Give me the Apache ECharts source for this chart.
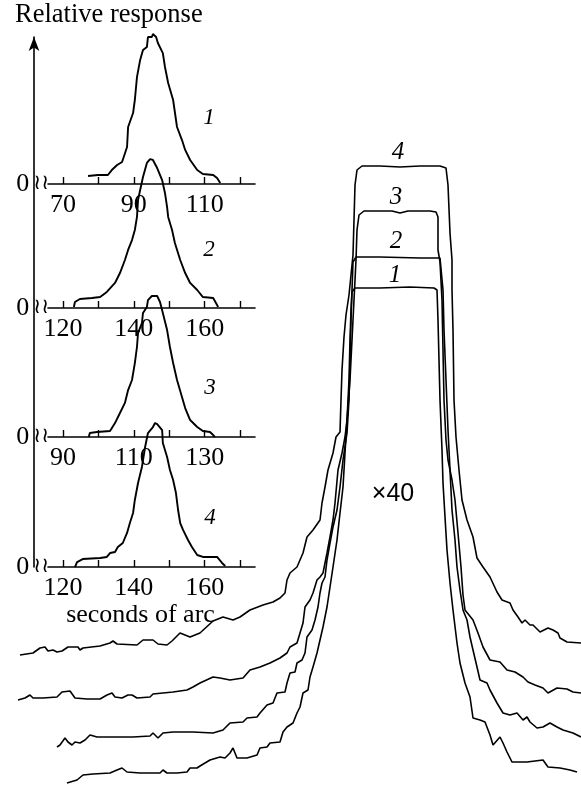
<!DOCTYPE html>
<html><head><meta charset="utf-8">
<script src="https://cdn.jsdelivr.net/npm/echarts@6/dist/echarts.min.js"></script>
<style>html,body{margin:0;padding:0;background:#fff}#c{width:581px;height:785px}</style>
</head><body><div id="c"></div>
<script>
// ---------- Left panels: profiles (x: seconds of arc, y: relative response) ----------
const p1x = [77.1,79.9,82.7,83.8,85.3,86.7,88.1,88.4,89.8,90.3,90.9,91.8,92.6,93.7,94.0,95.1,95.4,96.3,96.8,98.2,98.8,99.7,101.1,102.2,103.6,104.5,105.9,107.9,109.5,112.4,113.5,114.4];
const p1y = [0.053,0.06,0.06,0.093,0.127,0.147,0.247,0.38,0.473,0.56,0.713,0.827,0.893,0.913,0.98,0.98,1.0,0.98,0.94,0.873,0.78,0.673,0.56,0.38,0.293,0.227,0.16,0.093,0.067,0.06,0.04,0.007];
const p2x = [123.1,123.4,124.8,128.2,130.5,132.4,134.7,136.1,137.5,138.4,139.5,140.3,140.9,141.2,141.8,142.6,143.7,144.6,145.4,146.6,148.0,148.8,149.4,149.7,150.8,151.6,153.1,154.5,155.9,157.9,159.5,162.4,163.5,163.8];
const p2y = [0.007,0.04,0.06,0.067,0.073,0.107,0.167,0.233,0.32,0.387,0.453,0.52,0.607,0.72,0.787,0.873,0.967,0.993,0.987,0.933,0.853,0.767,0.673,0.607,0.52,0.433,0.32,0.233,0.167,0.12,0.073,0.067,0.02,0.007];
const p3x = [97.3,97.6,99.6,103.3,104.7,106.1,107.5,108.4,109.5,110.3,110.9,111.2,112.3,112.6,113.7,114.0,115.1,116.6,117.4,118.2,119.4,120.2,121.1,122.2,123.6,124.5,125.9,127.9,129.5,131.5,132.4,132.9];
const p3y = [0,0.027,0.033,0.04,0.093,0.16,0.227,0.313,0.38,0.493,0.6,0.693,0.76,0.827,0.867,0.913,0.94,0.94,0.9,0.827,0.713,0.6,0.493,0.38,0.267,0.193,0.113,0.067,0.04,0.033,0.013,0];
const p4x = [123.4,124.0,125.6,130.5,132.4,133.3,134.7,135.5,136.9,138.1,138.9,139.8,140.3,141.2,142.3,143.2,144.0,145.4,146.0,146.6,148.0,148.2,149.4,150.2,151.1,151.9,152.5,153.1,153.9,155.3,156.4,157.9,159.5,163.5,164.9,165.8];
const p4y = [0,0.033,0.053,0.06,0.067,0.093,0.1,0.133,0.16,0.227,0.293,0.36,0.447,0.56,0.667,0.8,0.893,0.933,0.96,0.953,0.913,0.827,0.733,0.647,0.58,0.493,0.38,0.293,0.247,0.18,0.133,0.08,0.067,0.067,0.027,0.007];

// tick values and labels of the four small axes
const ticks1 = [70,80,90,100,110,120], labels1 = [70,90,110];
const ticks2 = [120,130,140,150,160,170], labels2 = [120,140,160];
const ticks3 = [90,100,110,120,130,140], labels3 = [90,110,130];
const ticks4 = [120,130,140,150,160,170], labels4 = [120,140,160];
const ranges = [[65.8,124.2],[115.8,174.2],[85.8,144.2],[115.8,174.2]];
const panelNames = ['1','2','3','4'];
const panelNamePos = [[111.2,0.44],[161.2,0.387],[131.5,0.327],[161.5,0.327]];

// ---------- Right panel: ×40 profiles (x: arcsec offset, y: response ×40, stacked) ----------
const c4x = [-75.4,-72.8,-71.4,-70.4,-69.8,-68.8,-68.0,-67.0,-65.8,-64.8,-63.8,-63.4,-62.8,-59.4,-57.4,-56.8,-56.0,-52.0,-50.8,-48.8,-47.8,-46.0,-45.0,-43.4,-42.4,-41.4,-39.4,-36.8,-34.8,-32.8,-31.4,-29.4,-26.8,-24.8,-23.4,-22.4,-22.0,-21.4,-20.0,-18.8,-18.0,-16.8,-15.4,-15.0,-14.4,-13.8,-12.8,-12.2,-11.4,-11.2,-11.0,-10.6,-10.2,-9.6,-9.2,-8.8,-8.6,-8.4,-8.0,-7.0,-3.4,0.6,4.6,8.6,9.8,10.2,10.6,11.0,11.0,11.2,11.4,11.8,12.4,13.0,14.0,15.2,16.0,17.2,18.6,20.0,21.0,22.6,23.2,24.2,25.0,25.6,26.6,27.2,28.6,30.2,31.2,32.2,32.6,34.0,36.8];
const c4y = [26.0,26.4,27.4,27.6,26.8,27.0,26.6,26.8,27.6,27.6,27.6,27.0,27.4,27.8,28.4,28.8,28.2,28.0,29.0,29.0,28.2,28.0,28.8,30.4,30.0,29.6,30.4,32.8,33.6,33.0,33.6,35.0,36.0,36.6,37.4,38.4,41.0,42.4,43.6,46.4,49.6,51.0,53.0,56.4,59.6,63.0,66.4,69.6,70.6,77.0,83.0,89.6,94.0,98.0,102.0,106.0,113.0,120.0,123.0,123.8,123.8,123.6,123.8,123.8,123.4,120.0,110.4,105.0,99.0,91.0,77.0,69.6,63.0,57.0,53.0,49.6,45.4,43.6,41.6,38.6,37.0,36.4,35.0,33.6,32.4,33.0,32.0,32.0,30.6,31.4,31.0,30.4,29.4,28.6,28.4];
const c3x = [-75.8,-74.4,-73.4,-72.8,-70.8,-68.0,-67.0,-65.4,-64.4,-62.0,-59.4,-58.0,-57.0,-56.4,-55.0,-53.8,-53.0,-52.0,-49.4,-48.8,-44.8,-42.0,-40.8,-39.4,-36.8,-35.4,-33.4,-30.8,-29.4,-27.4,-25.4,-23.4,-22.0,-21.4,-20.0,-19.4,-18.8,-18.4,-17.4,-16.8,-16.0,-15.4,-14.8,-14.0,-13.4,-12.8,-12.4,-11.8,-11.0,-10.4,-10.0,-9.4,-9.0,-8.6,-8.2,-8.0,-7.6,-6.6,-3.4,-1.0,0.6,2.2,6.6,7.8,8.2,8.2,8.6,9.0,9.2,9.4,9.8,10.2,11.0,11.6,12.2,12.8,13.2,13.6,15.2,16.2,17.2,18.6,20.6,22.0,23.6,25.2,26.2,27.6,29.2,30.2,32.0,34.0,35.2,36.8];
const c3y = [17.0,17.4,18.0,17.4,17.4,17.6,18.6,18.8,17.4,17.2,17.2,18.0,18.4,17.6,17.4,18.0,18.0,17.4,17.6,18.2,18.6,19.0,19.6,20.4,21.6,21.4,21.0,21.4,23.0,23.6,24.4,25.4,26.4,27.6,28.4,30.4,32.4,35.6,37.0,38.4,41.0,41.6,42.4,46.4,49.6,53.0,56.4,63.0,66.4,69.6,73.0,81.0,89.0,97.0,105.0,111.0,114.0,114.8,114.8,114.8,114.4,114.8,114.8,114.6,113.6,107.0,104.6,97.0,87.0,77.0,69.0,65.0,61.0,57.0,50.4,43.6,38.0,35.0,33.0,30.4,27.6,25.0,24.6,23.0,22.6,21.6,20.6,20.0,19.4,18.4,19.4,19.2,18.6,18.4];
const c2x = [-68.0,-67.4,-66.4,-65.8,-65.0,-64.4,-63.4,-62.4,-61.4,-60.0,-57.4,-52.8,-49.4,-48.8,-48.4,-47.8,-46.8,-44.8,-40.8,-36.8,-34.8,-33.4,-30.8,-30.0,-28.0,-27.4,-26.0,-24.8,-24.0,-22.4,-22.0,-21.4,-20.4,-20.0,-19.0,-18.4,-18.0,-17.0,-16.4,-15.8,-15.4,-15.0,-14.4,-14.0,-13.4,-12.8,-12.0,-11.4,-10.8,-10.0,-9.6,-9.4,-9.2,-9.0,-8.8,-8.2,-3.4,4.6,8.6,9.0,9.2,9.4,9.8,10.2,10.6,11.0,11.6,12.0,12.6,13.2,14.0,14.6,15.2,16.0,16.6,18.0,18.6,20.0,21.2,22.6,24.0,25.2,26.0,26.6,28.0,29.2,30.6,32.0,33.2,35.2,36.8];
const c2y = [7.6,8.0,9.4,8.6,8.0,8.6,8.4,9.0,10.0,9.6,9.6,9.6,9.8,10.4,10.6,9.4,10.4,10.6,10.6,10.4,11.0,12.4,12.6,13.4,13.6,14.4,16.0,16.4,18.4,18.6,20.4,22.4,22.6,24.4,25.0,26.4,29.6,31.0,33.0,35.6,38.4,40.4,41.6,45.0,48.4,51.6,55.0,59.6,65.0,70.4,77.0,85.0,93.0,99.0,104.6,105.6,105.6,105.4,105.4,105.0,99.0,91.0,81.0,71.0,63.0,55.0,49.0,43.6,39.0,35.0,33.0,29.6,27.0,23.6,21.0,20.4,19.0,16.4,14.4,14.0,14.4,13.0,13.6,12.6,11.4,11.6,12.4,11.6,11.0,10.4,9.6];
const c1x = [-66.0,-64.0,-62.8,-60.8,-57.4,-56.0,-55.0,-54.0,-51.4,-47.4,-46.8,-46.0,-44.0,-42.0,-41.4,-40.0,-39.4,-37.4,-35.4,-34.4,-33.4,-32.8,-32.0,-30.0,-28.0,-27.4,-26.0,-25.4,-23.4,-22.8,-22.0,-20.8,-20.0,-19.4,-18.8,-17.8,-17.4,-16.8,-16.0,-15.4,-14.8,-14.0,-13.4,-12.8,-12.0,-11.4,-10.8,-10.4,-10.0,-9.6,-9.4,-9.2,-9.0,-8.4,-3.4,2.6,7.4,8.0,8.2,8.4,8.6,9.0,9.2,9.6,10.0,10.6,11.2,12.0,12.6,13.6,14.6,15.2,16.6,17.6,18.6,19.2,20.6,21.2,22.0,23.0,26.0,29.2,30.2,32.6,34.6,36.0];
const c1y = [0.4,1.0,2.0,2.2,2.4,3.0,3.4,2.6,2.4,2.4,3.0,2.4,2.4,2.6,3.4,3.4,3.8,5.0,5.6,5.4,6.4,7.4,5.4,5.4,6.0,7.4,7.6,8.4,8.6,10.6,11.6,12.4,14.4,15.6,18.4,19.0,21.6,23.6,26.4,29.0,31.6,35.6,39.6,43.6,49.0,54.4,59.6,66.4,73.0,81.0,89.0,95.0,98.6,99.4,99.4,99.6,99.4,99.0,93.0,85.0,77.0,67.0,60.4,53.6,47.0,40.4,35.0,28.4,24.4,20.4,17.6,13.4,13.0,12.6,10.0,8.0,9.6,8.4,6.6,4.6,4.6,5.0,3.6,3.4,3.0,2.6];
const rightNames = ['4','3','2','1'];
const rightNamePos = [[0.2,126.6],[-0.2,117.6],[-0.2,108.8],[-0.4,102.0]];
const scaleText = '×40', scalePos = [-0.8,58.2];

// ---------- build ----------
const zip = (xs, ys) => xs.map((x, i) => [x, ys[i]]);
const SERIF = 'Liberation Serif';
const axisYpx = [184, 308, 437, 567];
const panelX = [p1x, p2x, p3x, p4x], panelY = [p1y, p2y, p3y, p4y];
const tickSets = [ticks1, ticks2, ticks3, ticks4], labelSets = [labels1, labels2, labels3, labels4];

const grid = [], xAxis = [], yAxis = [], series = [];
for (let i = 0; i < 4; i++) {
  grid.push({left: 48, width: 207, top: axisYpx[i] - 165, height: 165});
  xAxis.push({
    type: 'value', gridIndex: i, min: ranges[i][0], max: ranges[i][1],
    axisLine: {show: true, onZero: false, lineStyle: {color: '#000', width: 1.6}},
    axisTick: {show: true, inside: true, length: 7, customValues: tickSets[i], lineStyle: {color: '#000', width: 1.4}},
    axisLabel: {show: true, customValues: labelSets[i], margin: 8, color: '#000', fontFamily: SERIF, fontSize: 26},
    splitLine: {show: false},
    name: i === 3 ? 'seconds of arc' : '', nameLocation: 'middle', nameGap: 32,
    nameTextStyle: {color: '#000', fontFamily: SERIF, fontSize: 26, padding: [0, 22, 0, 0]}
  });
  yAxis.push({
    type: 'value', gridIndex: i, min: 0, max: 1.1,
    axisLine: {show: false}, axisTick: {show: false}, splitLine: {show: false},
    axisLabel: {show: true, customValues: [0], margin: -1,
      formatter: () => '{z|0}{b|≀≀}',
      rich: {z: {fontFamily: SERIF, fontSize: 26, color: '#000', padding: [0, 4, 0, 0]},
             b: {fontFamily: 'DejaVu Sans', fontSize: 21, color: '#000'}}}
  });
  series.push({type: 'line', xAxisIndex: i, yAxisIndex: i, data: zip(panelX[i], panelY[i]),
    showSymbol: false, symbol: 'none', clip: false, lineStyle: {color: '#000', width: 1.9}, z: 3});
  series.push({type: 'scatter', xAxisIndex: i, yAxisIndex: i, symbolSize: 0, data: [panelNamePos[i]],
    itemStyle: {opacity: 1, color: '#000'},
    label: {show: true, position: 'inside', formatter: panelNames[i], color: '#000', opacity: 1,
      fontFamily: SERIF, fontStyle: 'italic', fontSize: 23}, silent: true});
}
// right panel
grid.push({left: 0, right: 0, top: 0, bottom: 0});
xAxis.push({type: 'value', gridIndex: 4, min: -79.4, max: 36.8, show: false});
yAxis.push({type: 'value', gridIndex: 4, min: 0, max: 157, show: false});
const rightX = [c4x, c3x, c2x, c1x], rightY = [c4y, c3y, c2y, c1y];
for (let k = 0; k < 4; k++) {
  series.push({type: 'line', xAxisIndex: 4, yAxisIndex: 4, data: zip(rightX[k], rightY[k]),
    showSymbol: false, symbol: 'none', clip: false, lineStyle: {color: '#000', width: 1.6}});
}
series.push({type: 'scatter', xAxisIndex: 4, yAxisIndex: 4, symbolSize: 0,
  itemStyle: {opacity: 1, color: '#000'},
  data: rightNamePos.map((p, k) => ({value: p, name: rightNames[k]})),
  label: {show: true, position: 'inside', formatter: p => p.name, color: '#000', opacity: 1,
    fontFamily: SERIF, fontStyle: 'italic', fontSize: 25}, silent: true});
series.push({type: 'scatter', xAxisIndex: 4, yAxisIndex: 4, symbolSize: 0, data: [scalePos],
  itemStyle: {opacity: 1, color: '#000'},
  label: {show: true, position: 'inside', formatter: scaleText, color: '#000', opacity: 1,
    fontFamily: 'Liberation Sans', fontSize: 25}, silent: true});
// shared vertical arrow axis
grid.push({left: 34, top: 37, width: 1, height: 530});
xAxis.push({type: 'value', gridIndex: 5, show: false, min: 0, max: 1});
yAxis.push({type: 'value', gridIndex: 5, min: 0, max: 1, position: 'left',
  axisLine: {show: true, symbol: ['none', 'arrow'], symbolSize: [8, 14], lineStyle: {color: '#000', width: 1.6}},
  axisTick: {show: false}, axisLabel: {show: false}, splitLine: {show: false}});

const chart = echarts.init(document.getElementById('c'));
chart.setOption({
  animation: false,
  backgroundColor: '#fff',
  title: {text: 'Relative response', left: 15, top: 2, padding: 0,
    textStyle: {fontFamily: SERIF, fontSize: 26.5, fontWeight: 'normal', color: '#000'}},
  grid, xAxis, yAxis, series
});
</script></body></html>
